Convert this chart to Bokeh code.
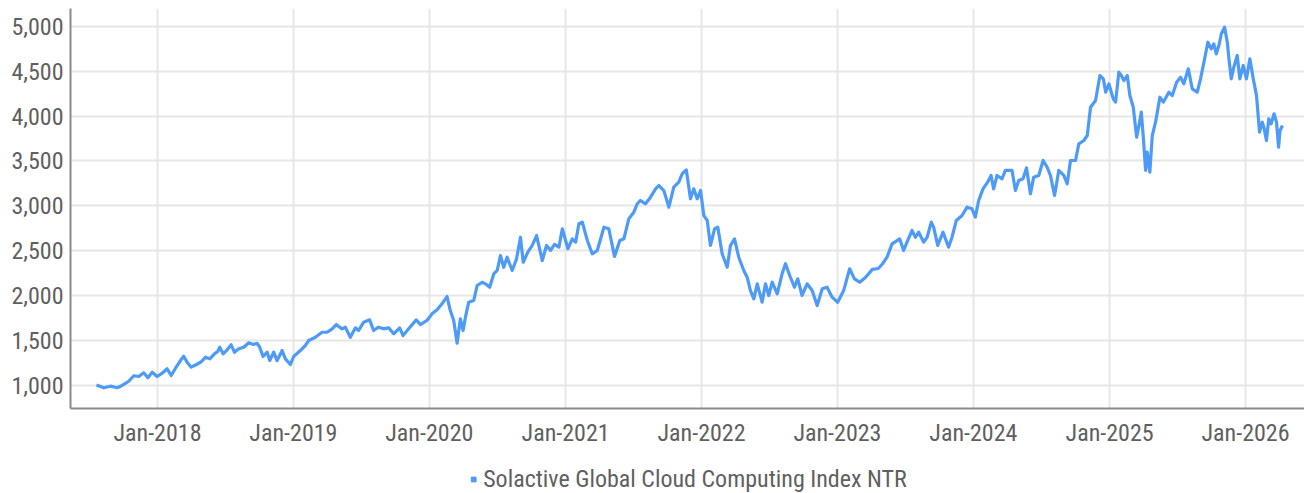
import datetime as dt
from bokeh.plotting import figure
from bokeh.layouts import column
from bokeh.embed import file_html
from bokeh.resources import INLINE
from bokeh.models import (FixedTicker, DatetimeTickFormatter, NumeralTickFormatter,
                          Legend, LegendItem, Range1d, ColumnDataSource)

# ---- data ----
series_name = "Solactive Global Cloud Computing Index NTR"

dates_decimal = [
    2017.551, 2017.605, 2017.654, 2017.704, 2017.740, 2017.789, 2017.826, 2017.862, 2017.899, 2017.929,
    2017.961, 2017.998, 2018.035, 2018.071, 2018.101, 2018.140, 2018.169, 2018.193, 2018.218, 2018.248,
    2018.287, 2018.321, 2018.353, 2018.385, 2018.419, 2018.443, 2018.458, 2018.483, 2018.513, 2018.542,
    2018.566, 2018.598, 2018.635, 2018.671, 2018.704, 2018.733, 2018.752, 2018.777, 2018.807, 2018.826,
    2018.855, 2018.880, 2018.917, 2018.941, 2018.978, 2019.002, 2019.051, 2019.088, 2019.113, 2019.162,
    2019.211, 2019.248, 2019.285, 2019.316, 2019.340, 2019.358, 2019.382, 2019.419, 2019.456, 2019.480,
    2019.517, 2019.561, 2019.590, 2019.627, 2019.664, 2019.701, 2019.738, 2019.782, 2019.807, 2019.848,
    2019.904, 2019.934, 2019.983, 2020.020, 2020.057, 2020.093, 2020.130, 2020.154, 2020.179, 2020.204,
    2020.228, 2020.248, 2020.265, 2020.289, 2020.326, 2020.351, 2020.388, 2020.412, 2020.443, 2020.473,
    2020.498, 2020.522, 2020.546, 2020.571, 2020.608, 2020.640, 2020.669, 2020.689, 2020.723, 2020.755,
    2020.787, 2020.829, 2020.860, 2020.890, 2020.919, 2020.951, 2020.976, 2021.017, 2021.049, 2021.074,
    2021.098, 2021.123, 2021.160, 2021.196, 2021.233, 2021.282, 2021.318, 2021.360, 2021.399, 2021.429,
    2021.465, 2021.502, 2021.527, 2021.551, 2021.588, 2021.625, 2021.662, 2021.686, 2021.723, 2021.760,
    2021.796, 2021.833, 2021.858, 2021.888, 2021.919, 2021.943, 2021.968, 2021.993, 2022.017, 2022.042,
    2022.066, 2022.096, 2022.120, 2022.152, 2022.189, 2022.213, 2022.243, 2022.274, 2022.311, 2022.336,
    2022.360, 2022.385, 2022.410, 2022.446, 2022.471, 2022.495, 2022.520, 2022.557, 2022.593, 2022.618,
    2022.649, 2022.684, 2022.708, 2022.740, 2022.777, 2022.814, 2022.851, 2022.888, 2022.924, 2022.961,
    2023.002, 2023.046, 2023.090, 2023.125, 2023.164, 2023.206, 2023.257, 2023.301, 2023.331, 2023.365,
    2023.402, 2023.458, 2023.487, 2023.512, 2023.549, 2023.574, 2023.598, 2023.635, 2023.660, 2023.691,
    2023.708, 2023.738, 2023.777, 2023.818, 2023.843, 2023.875, 2023.917, 2023.954, 2023.990, 2024.015,
    2024.039, 2024.071, 2024.105, 2024.130, 2024.149, 2024.174, 2024.211, 2024.235, 2024.284, 2024.309,
    2024.333, 2024.365, 2024.390, 2024.419, 2024.443, 2024.480, 2024.512, 2024.542, 2024.566, 2024.596,
    2024.627, 2024.664, 2024.689, 2024.713, 2024.750, 2024.774, 2024.811, 2024.836, 2024.860, 2024.897,
    2024.929, 2024.954, 2024.971, 2024.995, 2025.027, 2025.044, 2025.068, 2025.086, 2025.105, 2025.130,
    2025.149, 2025.174, 2025.199, 2025.216, 2025.233, 2025.248, 2025.265, 2025.277, 2025.296, 2025.314,
    2025.338, 2025.370, 2025.395, 2025.436, 2025.461, 2025.493, 2025.522, 2025.546, 2025.579, 2025.608,
    2025.645, 2025.669, 2025.699, 2025.723, 2025.748, 2025.767, 2025.785, 2025.804, 2025.822, 2025.846,
    2025.866, 2025.878, 2025.895, 2025.914, 2025.939, 2025.958, 2025.983, 2026.007, 2026.032, 2026.057,
    2026.081, 2026.103, 2026.123, 2026.135, 2026.154, 2026.171, 2026.189, 2026.210, 2026.228, 2026.243,
    2026.254, 2026.272,
]

index_values = [
    1000, 969, 987, 970, 995, 1042, 1103, 1095, 1136, 1080,
    1143, 1095, 1132, 1181, 1106, 1206, 1273, 1321, 1254, 1199,
    1229, 1259, 1310, 1292, 1348, 1374, 1422, 1348, 1393, 1449,
    1366, 1404, 1422, 1471, 1452, 1466, 1422, 1318, 1366, 1273,
    1366, 1273, 1385, 1292, 1229, 1318, 1385, 1441, 1497, 1533,
    1589, 1589, 1627, 1675, 1645, 1627, 1645, 1533, 1638, 1608,
    1701, 1727, 1608, 1645, 1627, 1638, 1571, 1638, 1552, 1627,
    1727, 1675, 1720, 1794, 1839, 1906, 1987, 1831, 1720, 1466,
    1739, 1608, 1757, 1924, 1943, 2110, 2147, 2129, 2091, 2241,
    2278, 2445, 2314, 2426, 2278, 2408, 2649, 2370, 2482, 2557,
    2668, 2389, 2557, 2501, 2568, 2538, 2743, 2520, 2631, 2594,
    2799, 2817, 2612, 2464, 2501, 2761, 2743, 2434, 2612, 2631,
    2854, 2928, 3022, 3059, 3022, 3096, 3189, 3226, 3170, 2984,
    3207, 3263, 3357, 3401, 3078, 3189, 3078, 3170, 2891, 2836,
    2557, 2743, 2761, 2464, 2314, 2557, 2631, 2426, 2278, 2203,
    2054, 1962, 2129, 1924, 2129, 1999, 2147, 2018, 2241, 2353,
    2222, 2091, 2185, 1999, 2129, 2054, 1887, 2073, 2091, 1980,
    1924, 2054, 2297, 2185, 2147, 2200, 2290, 2300, 2350, 2426,
    2575, 2631, 2501, 2594, 2724, 2649, 2705, 2594, 2649, 2817,
    2761, 2557, 2705, 2538, 2649, 2836, 2891, 2984, 2966, 2873,
    3059, 3189, 3263, 3338, 3189, 3338, 3301, 3394, 3394, 3170,
    3282, 3301, 3423, 3133, 3319, 3338, 3505, 3430, 3338, 3115,
    3394, 3338, 3245, 3505, 3505, 3691, 3728, 3784, 4100, 4174,
    4453, 4416, 4267, 4360, 4193, 4156, 4490, 4453, 4397, 4453,
    4230, 4100, 3765, 3896, 4044, 3765, 3394, 3598, 3375, 3784,
    3933, 4211, 4156, 4267, 4230, 4379, 4435, 4360, 4528, 4305,
    4267, 4416, 4640, 4825, 4751, 4807, 4695, 4788, 4919, 4993,
    4825, 4640, 4416, 4546, 4677, 4416, 4565, 4416, 4640, 4416,
    4230, 3821, 3933, 3877, 3728, 3970, 3914, 4026, 3933, 3653,
    3840, 3896,
]

x_tick_years = [2018, 2019, 2020, 2021, 2022, 2023, 2024, 2025, 2026]
y_tick_values = [1000, 1500, 2000, 2500, 3000, 3500, 4000, 4500, 5000]

# ---- helpers ----
EPOCH = dt.datetime(1970, 1, 1)


def to_datetime(y):
    yr = int(y)
    start = dt.datetime(yr, 1, 1)
    end = dt.datetime(yr + 1, 1, 1)
    return start + (end - start) * (y - yr)


def to_ms(d):
    return (d - EPOCH).total_seconds() * 1000.0


dates = [to_datetime(d) for d in dates_decimal]
source = ColumnDataSource(data=dict(date=dates, value=index_values))

FONT = "Roboto Condensed"
TEXT_COLOR = "#5f5f5f"
LINE_COLOR = "#4d9bf6"
GRID_COLOR = "#e6e6e6"
AXIS_COLOR = "#8a8a8a"

# ---- main chart ----
p = figure(
    x_axis_type="datetime",
    frame_width=1234, frame_height=400,
    output_backend="svg", toolbar_location=None,
    x_range=Range1d(to_datetime(2017.360), to_datetime(2026.434)),
    y_range=Range1d(738, 5201),
    min_border_left=70, min_border_right=0, min_border_top=8, min_border_bottom=0,
)
p.outline_line_color = None
p.background_fill_color = "white"
p.border_fill_color = "white"

p.line("date", "value", source=source, line_color=LINE_COLOR, line_width=3.2,
       line_join="round")

xa = p.xaxis[0]
xa.ticker = FixedTicker(ticks=[to_ms(dt.datetime(y, 1, 1)) for y in x_tick_years])
xa.formatter = DatetimeTickFormatter(years="%b-%Y", months="%b-%Y", days="%b-%Y",
                                     hours="%b-%Y", minutes="%b-%Y", seconds="%b-%Y",
                                     milliseconds="%b-%Y", hourmin="%b-%Y", minsec="%b-%Y")
ya = p.yaxis[0]
ya.ticker = FixedTicker(ticks=y_tick_values)
ya.formatter = NumeralTickFormatter(format="0,0")

for ax in (xa, ya):
    ax.axis_line_color = AXIS_COLOR
    ax.axis_line_width = 2
    ax.major_tick_line_color = None
    ax.minor_tick_line_color = None
    ax.major_tick_out = 0
    ax.major_tick_in = 0
    ax.minor_tick_out = 0
    ax.minor_tick_in = 0
    ax.major_label_text_font = FONT
    ax.major_label_text_color = TEXT_COLOR
    ax.major_label_text_font_style = "normal"

xa.major_label_text_font_size = "24px"
xa.major_label_standoff = 10
ya.major_label_text_font_size = "24px"
ya.major_label_standoff = 7

p.xgrid.grid_line_color = GRID_COLOR
p.xgrid.grid_line_width = 2
p.ygrid.grid_line_color = GRID_COLOR
p.ygrid.grid_line_width = 2

# ---- legend strip below the chart ----
lf = figure(
    width=1304, height=60,
    output_backend="svg", toolbar_location=None,
    x_axis_location=None, y_axis_location=None,
    x_range=Range1d(0, 1), y_range=Range1d(0, 1),
    min_border_left=35, min_border_right=0, min_border_top=0, min_border_bottom=0,
)
lf.outline_line_color = None
lf.xgrid.visible = False
lf.ygrid.visible = False
lf.background_fill_color = "white"
lf.border_fill_color = "white"

# legend swatch only (no visible data point)
legend_marker = lf.scatter(x=[float("nan")], y=[float("nan")], marker="square", size=11,
                           fill_color=LINE_COLOR, line_color=LINE_COLOR)

legend = Legend(items=[LegendItem(label=series_name, renderers=[legend_marker])],
                orientation="horizontal", location="center",
                label_text_font=FONT, label_text_font_size="24px",
                label_text_color=TEXT_COLOR,
                glyph_width=12, glyph_height=12, label_standoff=4,
                padding=0, margin=0, spacing=0,
                border_line_color=None, background_fill_alpha=0)
lf.add_layout(legend, "center")

layout = column(p, lf, spacing=0)
open("out.html", "w").write(file_html(layout, INLINE))
